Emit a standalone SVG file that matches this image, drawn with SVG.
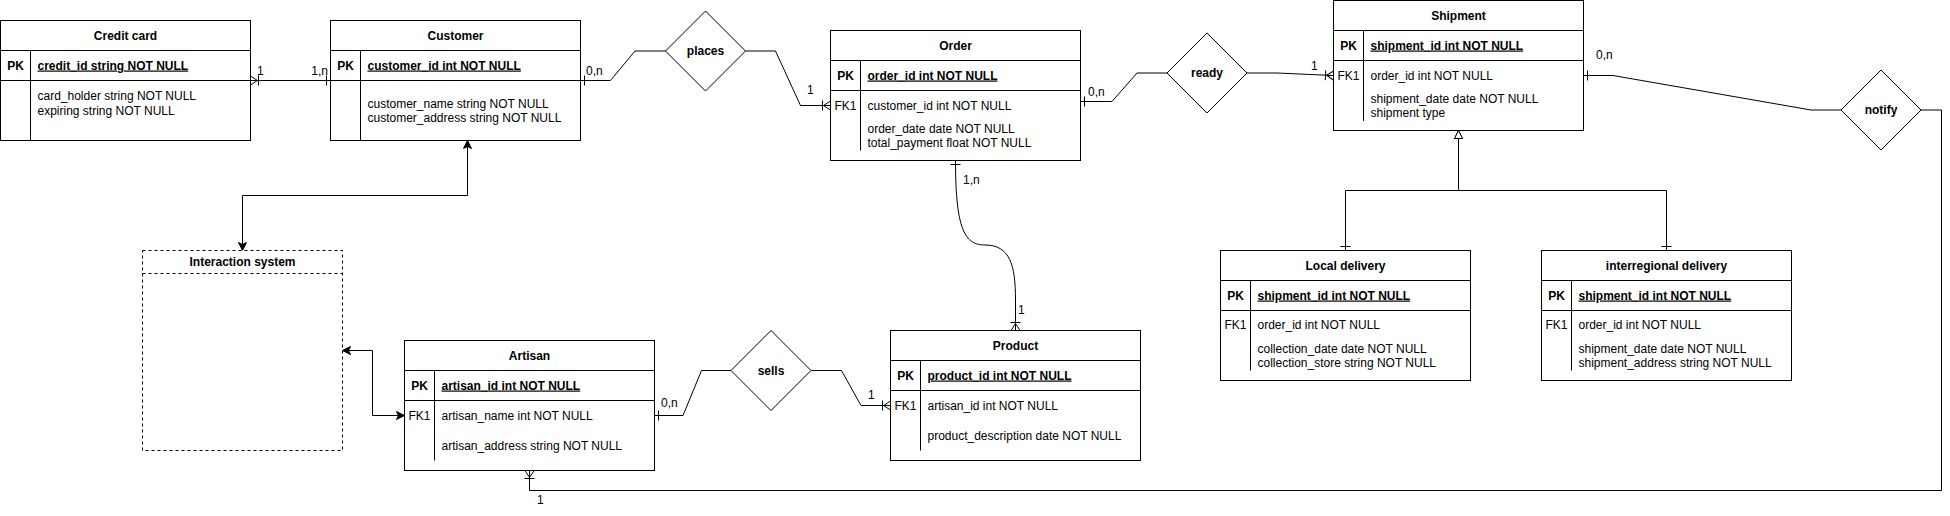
<svg xmlns="http://www.w3.org/2000/svg" width="1950" height="516" viewBox="0 0 1950 516">
<style>
.box{fill:#fff;stroke:#000;stroke-width:1}
.dash{fill:#fff;stroke:#000;stroke-width:1;stroke-dasharray:3 3}
.ln{fill:none;stroke:#000;stroke-width:1}
.t{font-family:"Liberation Sans",Arial,Helvetica,sans-serif;font-size:12px;fill:#000}
.b{font-weight:bold}
.c{text-anchor:middle}
.e{text-anchor:end}
.u{text-decoration:underline}
.conn{fill:none;stroke:#000;stroke-width:1}
</style>
<defs>
<marker id="one" markerUnits="userSpaceOnUse" orient="auto-start-reverse" refX="0" refY="0" markerWidth="20" markerHeight="20" overflow="visible"><path d="M-4,-5 L-4,5" fill="none" stroke="#000"/></marker>
<marker id="many" markerUnits="userSpaceOnUse" orient="auto-start-reverse" refX="0" refY="0" markerWidth="20" markerHeight="20" overflow="visible"><path d="M0,-4.5 L-7,0 L0,4.5 M-7,0 L0,0 M-8,-5 L-8,5" fill="none" stroke="#000"/></marker>
<marker id="arr" markerUnits="userSpaceOnUse" orient="auto-start-reverse" refX="0" refY="0" markerWidth="20" markerHeight="20" overflow="visible"><path d="M0,0 L-8,-4 L-6,0 L-8,4 Z" fill="#000" stroke="#000"/></marker>
<marker id="tri" markerUnits="userSpaceOnUse" orient="auto-start-reverse" refX="0" refY="0" markerWidth="20" markerHeight="20" overflow="visible"><path d="M0,0 L-8,-4 L-8,4 Z" fill="#fff" stroke="#000"/></marker>
</defs>
<rect width="1950" height="516" fill="#fff"/>

<g id="connectors">
<path class="conn" d="M250.5,80.5 L330.5,80.5" marker-start="url(#many)" marker-end="url(#one)"/>
<path class="conn" d="M580.5,80.5 L610.5,80.5 L635,51 L665.5,51" marker-start="url(#one)"/>
<path class="conn" d="M745.5,51 L775.5,51 L800.5,105.5 L830.5,105.5" marker-end="url(#many)"/>
<path class="conn" d="M1080.5,101.5 L1112,101.5 L1137,73 L1167,73" marker-start="url(#one)"/>
<path class="conn" d="M1247,73 L1277,73 L1333.5,75.5" marker-end="url(#many)"/>
<path class="conn" d="M1583.5,75.5 L1613,75.5 L1811,110 L1841,110" marker-start="url(#one)"/>
<path class="conn" d="M1921,110 L1941.5,110 L1941.5,490.5 L529.5,490.5 L529.5,470.5" marker-end="url(#many)"/>
<path class="conn" d="M955.5,160.5 C955.5,230 965,245 985,245 C1010,245 1015.5,265 1015.5,300 L1015.5,330.5" marker-start="url(#one)" marker-end="url(#many)"/>
<path class="conn" d="M654.5,415.5 L683,415.5 L701.5,370.5 L731,370.5" marker-start="url(#one)"/>
<path class="conn" d="M811,370.5 L841.5,370.5 L861,405.5 L890.5,405.5" marker-end="url(#many)"/>
<path class="conn" d="M467.5,140.5 L467.5,195.5 L242.5,195.5 L242.5,250.5" marker-start="url(#arr)" marker-end="url(#arr)"/>
<path class="conn" d="M342.5,350.5 L372.5,350.5 L372.5,415.5 L404.5,415.5" marker-start="url(#arr)" marker-end="url(#arr)"/>
<path class="conn" d="M1345.5,250.5 L1345.5,190.5 L1458.5,190.5 L1458.5,130.5" marker-start="url(#one)" marker-end="url(#tri)"/>
<path class="conn" d="M1666.5,250.5 L1666.5,190.5 L1458.5,190.5 L1458.5,130.5" marker-start="url(#one)" marker-end="url(#tri)"/>
<text class="t" x="257" y="75">1</text>
<text class="t e" x="328" y="75">1,n</text>
<text class="t" x="586" y="75">0,n</text>
<text class="t" x="807" y="94">1</text>
<text class="t" x="1088" y="96">0,n</text>
<text class="t" x="1311" y="70">1</text>
<text class="t" x="1596" y="59">0,n</text>
<text class="t" x="537" y="504">1</text>
<text class="t" x="963" y="184">1,n</text>
<text class="t" x="1018" y="314">1</text>
<text class="t" x="661" y="407">0,n</text>
<text class="t" x="868" y="399">1</text>
</g>

<g id="credit-card">
<rect class="box" x="0.5" y="20.5" width="250" height="120"/>
<path class="ln" d="M0.5,50.5 H250.5 M0.5,80.5 H250.5 M30.5,50.5 V140.5"/>
<text class="t b c" x="125.5" y="39.5">Credit card</text>
<text class="t b c" x="15.5" y="69.5">PK</text>
<text class="t b u" x="37.5" y="69.5">credit_id string NOT NULL</text>
<text class="t" x="37.5" y="100">card_holder string NOT NULL</text>
<text class="t" x="37.5" y="114.5">expiring string NOT NULL</text>
</g>

<g id="customer">
<rect class="box" x="330.5" y="20.5" width="250" height="120"/>
<path class="ln" d="M330.5,50.5 H580.5 M330.5,80.5 H580.5 M360.5,50.5 V140.5"/>
<text class="t b c" x="455.5" y="39.5">Customer</text>
<text class="t b c" x="345.5" y="69.5">PK</text>
<text class="t b u" x="367.5" y="69.5">customer_id int NOT NULL</text>
<text class="t" x="367.5" y="107.5">customer_name string NOT NULL</text>
<text class="t" x="367.5" y="121.5">customer_address string NOT NULL</text>
</g>

<g id="places">
<polygon class="box" points="665.5,51 705.5,11 745.5,51 705.5,91"/>
<text class="t b c" x="705.5" y="55">places</text>
</g>

<g id="order">
<rect class="box" x="830.5" y="30.5" width="250" height="130"/>
<path class="ln" d="M830.5,60.5 H1080.5 M830.5,90.5 H1080.5 M860.5,60.5 V150.5"/>
<text class="t b c" x="955.5" y="49.5">Order</text>
<text class="t b c" x="845.5" y="79.5">PK</text>
<text class="t b u" x="867.5" y="79.5">order_id int NOT NULL</text>
<text class="t c" x="845.5" y="109.5">FK1</text>
<text class="t" x="867.5" y="109.5">customer_id int NOT NULL</text>
<text class="t" x="867.5" y="132.5">order_date date NOT NULL</text>
<text class="t" x="867.5" y="147">total_payment float NOT NULL</text>
</g>

<g id="ready">
<polygon class="box" points="1167,73 1207,33 1247,73 1207,113"/>
<text class="t b c" x="1207" y="77">ready</text>
</g>

<g id="shipment">
<rect class="box" x="1333.5" y="0.5" width="250" height="130"/>
<path class="ln" d="M1333.5,30.5 H1583.5 M1333.5,60.5 H1583.5 M1363.5,30.5 V121"/>
<text class="t b c" x="1458.5" y="19.5">Shipment</text>
<text class="t b c" x="1348.5" y="49.5">PK</text>
<text class="t b u" x="1370.5" y="49.5">shipment_id int NOT NULL</text>
<text class="t c" x="1348.5" y="79.5">FK1</text>
<text class="t" x="1370.5" y="79.5">order_id int NOT NULL</text>
<text class="t" x="1370.5" y="103">shipment_date date NOT NULL</text>
<text class="t" x="1370.5" y="117">shipment type</text>
</g>

<g id="notify">
<polygon class="box" points="1841,110 1881,70 1921,110 1881,150"/>
<text class="t b c" x="1881" y="114">notify</text>
</g>

<g id="interaction-system">
<rect class="dash" x="142.5" y="250.5" width="200" height="200"/>
<path class="ln" d="M142.5,273.5 H342.5" stroke-dasharray="3 3"/>
<text class="t b c" x="242.5" y="266">Interaction system</text>
</g>

<g id="artisan">
<rect class="box" x="404.5" y="340.5" width="250" height="130"/>
<path class="ln" d="M404.5,370.5 H654.5 M404.5,400.5 H654.5 M434.5,370.5 V460.5"/>
<text class="t b c" x="529.5" y="359.5">Artisan</text>
<text class="t b c" x="419.5" y="389.5">PK</text>
<text class="t b u" x="441.5" y="389.5">artisan_id int NOT NULL</text>
<text class="t c" x="419.5" y="419.5">FK1</text>
<text class="t" x="441.5" y="419.5">artisan_name int NOT NULL</text>
<text class="t" x="441.5" y="449.5">artisan_address string NOT NULL</text>
</g>

<g id="sells">
<polygon class="box" points="731,370.5 771,330.5 811,370.5 771,410.5"/>
<text class="t b c" x="771" y="374.5">sells</text>
</g>

<g id="product">
<rect class="box" x="890.5" y="330.5" width="250" height="130"/>
<path class="ln" d="M890.5,360.5 H1140.5 M890.5,390.5 H1140.5 M920.5,360.5 V450.5"/>
<text class="t b c" x="1015.5" y="349.5">Product</text>
<text class="t b c" x="905.5" y="379.5">PK</text>
<text class="t b u" x="927.5" y="379.5">product_id int NOT NULL</text>
<text class="t c" x="905.5" y="409.5">FK1</text>
<text class="t" x="927.5" y="409.5">artisan_id int NOT NULL</text>
<text class="t" x="927.5" y="439.5">product_description date NOT NULL</text>
</g>

<g id="local-delivery">
<rect class="box" x="1220.5" y="250.5" width="250" height="130"/>
<path class="ln" d="M1220.5,280.5 H1470.5 M1220.5,310.5 H1470.5 M1250.5,280.5 V370.5"/>
<text class="t b c" x="1345.5" y="269.5">Local delivery</text>
<text class="t b c" x="1235.5" y="299.5">PK</text>
<text class="t b u" x="1257.5" y="299.5">shipment_id int NOT NULL</text>
<text class="t c" x="1235.5" y="329">FK1</text>
<text class="t" x="1257.5" y="329">order_id int NOT NULL</text>
<text class="t" x="1257.5" y="353">collection_date date NOT NULL</text>
<text class="t" x="1257.5" y="366.5">collection_store string NOT NULL</text>
</g>

<g id="interregional-delivery">
<rect class="box" x="1541.5" y="250.5" width="250" height="130"/>
<path class="ln" d="M1541.5,280.5 H1791.5 M1541.5,310.5 H1791.5 M1571.5,280.5 V370.5"/>
<text class="t b c" x="1666.5" y="269.5">interregional delivery</text>
<text class="t b c" x="1556.5" y="299.5">PK</text>
<text class="t b u" x="1578.5" y="299.5">shipment_id int NOT NULL</text>
<text class="t c" x="1556.5" y="329">FK1</text>
<text class="t" x="1578.5" y="329">order_id int NOT NULL</text>
<text class="t" x="1578.5" y="353">shipment_date date NOT NULL</text>
<text class="t" x="1578.5" y="366.5">shipment_address string NOT NULL</text>
</g>
</svg>
